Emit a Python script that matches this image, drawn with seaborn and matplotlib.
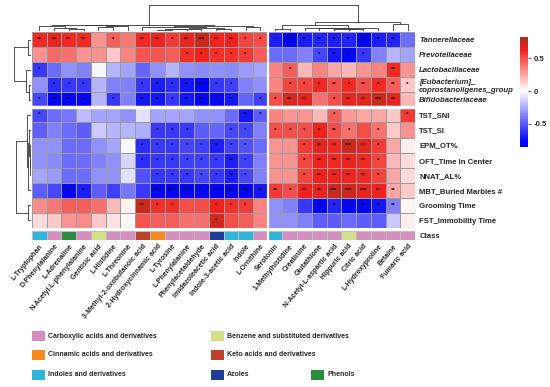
import numpy as np
import pandas as pd
import matplotlib
matplotlib.use("Agg")
import matplotlib.pyplot as plt
from matplotlib.colors import LinearSegmentedColormap, ListedColormap
from matplotlib.patches import Rectangle
import seaborn as sns

# ---------------- data ----------------
metabolites = ["L-Tryptophan", "D-Phenylalanine", "L-Adrenaline", "N-Acetyl-L-phenylalanine",
               "Gentisic acid", "L-Histidine", "L-Threonine", "3-Methyl-2-oxobutanoic acid",
               "2-Hydroxycinnamic acid", "L-Tyrosine", "L-Phenylalanine", "Phenylacetaldehyde",
               "Imidazoleacetic acid", "Indole-3-acetic acid", "Indole", "L-Ornithine", "Serotonin",
               "1-Methylhistidine", "Creatinine", "Glutathione", "N-Acetyl-L-aspartic acid",
               "Hippuric acid", "Citric acid", "L-Hydroxyproline", "Betaine", "Fumaric acid"]

class_names = ["Carboxylic acids and derivatives", "Benzene and substituted derivatives",
               "Cinnamic acids and derivatives", "Keto acids and derivatives",
               "Indoles and derivatives", "Azoles", "Phenols"]
class_colors = ["#d48fbf", "#d3e08a", "#f58a1f", "#b8432a", "#2fb4dc", "#1f3c98", "#2b8c3f"]
# class index of every metabolite (order of class_names)
metabolite_class = [4, 0, 6, 0, 1, 0, 0, 3, 2, 0, 0, 0, 5, 4, 4, 0, 4,
                    0, 0, 0, 0, 1, 0, 0, 0, 0]

bacteria = ["Tannerellaceae", "Prevotellaceae", "Lactobacillaceae",
            "[Eubacterium]_\ncoprostanoligenes_group", "Bifidobacteriaceae"]
behaviors = ["TST_SNI", "TST_SI", "EPM_OT%", "OFT_Time in Center", "NNAT_AL%",
             "MBT_Buried Marbles #", "Grooming Time", "FST_Immobility Time"]

# correlation coefficients, one list per row (columns follow `metabolites`)
tannerellaceae = [0.60, 0.65, 0.60, 0.60, 0.30, 0.45, 0.38, 0.60, 0.62, 0.55, 0.65, 0.72, 0.62,
                  0.62, 0.52, 0.50, -0.68, -0.80, -0.68, -0.66, -0.68, -0.66, -0.80, -0.68, -0.66, -0.44]
prevotellaceae = [0.30, 0.42, 0.40, 0.30, 0.30, 0.15, 0.35, 0.48, 0.48, 0.45, 0.58, 0.62, 0.58,
                  0.58, 0.55, 0.45, -0.44, -0.44, -0.38, -0.55, -0.70, -0.74, -0.60, -0.38, -0.22, -0.27]
lactobacillaceae = [-0.60, -0.44, -0.33, -0.38, -0.03, -0.22, -0.27, -0.46, -0.33, -0.22, -0.33, -0.35, -0.33,
                    -0.35, -0.30, -0.27, 0.35, 0.45, 0.20, 0.35, 0.25, 0.20, 0.30, 0.35, 0.60, 0.30]
eubacterium = [-0.33, -0.63, -0.60, -0.60, -0.22, -0.38, -0.38, -0.60, -0.68, -0.63, -0.70, -0.80, -0.60,
               -0.57, -0.38, -0.33, 0.35, 0.52, 0.52, 0.60, 0.50, 0.60, 0.50, 0.60, 0.45, 0.15]
bifidobacteriaceae = [-0.55, -0.80, -0.76, -0.76, -0.22, -0.60, -0.38, -0.70, -0.70, -0.60, -0.70, -0.80, -0.74,
                      -0.70, -0.46, -0.57, 0.50, 0.68, 0.65, 0.40, 0.50, 0.65, 0.65, 0.72, 0.65, 0.20]
tst_sni = [-0.55, -0.44, -0.41, -0.20, -0.27, -0.27, -0.33, -0.09, -0.27, -0.27, -0.27, -0.33, -0.33,
           -0.44, -0.70, -0.49, 0.35, 0.30, 0.30, 0.20, 0.45, 0.28, 0.25, 0.25, 0.15, 0.55]
tst_si = [-0.49, -0.38, -0.44, -0.49, -0.16, -0.22, -0.22, -0.24, -0.60, -0.60, -0.60, -0.49, -0.46,
          -0.55, -0.55, -0.38, 0.50, 0.50, 0.50, 0.62, 0.50, 0.40, 0.50, 0.40, 0.15, 0.30]
epm_ot = [-0.33, -0.33, -0.44, -0.44, -0.33, -0.27, -0.02, -0.63, -0.60, -0.60, -0.55, -0.57, -0.68,
          -0.57, -0.52, -0.44, 0.30, 0.30, 0.55, 0.65, 0.60, 0.72, 0.65, 0.55, 0.25, 0.05]
oft_center = [-0.33, -0.35, -0.44, -0.44, -0.38, -0.33, -0.13, -0.63, -0.60, -0.60, -0.57, -0.57, -0.60,
              -0.68, -0.57, -0.38, 0.30, 0.30, 0.52, 0.62, 0.60, 0.65, 0.60, 0.52, 0.20, 0.10]
nnat_al = [-0.27, -0.30, -0.44, -0.44, -0.33, -0.33, -0.09, -0.52, -0.60, -0.60, -0.60, -0.55, -0.60,
           -0.68, -0.55, -0.38, 0.30, 0.30, 0.52, 0.62, 0.62, 0.62, 0.60, 0.52, 0.25, 0.10]
mbt_marbles = [-0.49, -0.55, -0.76, -0.68, -0.49, -0.57, -0.41, -0.60, -0.80, -0.80, -0.76, -0.76, -0.80,
               -0.80, -0.76, -0.70, 0.55, 0.50, 0.62, 0.65, 0.72, 0.72, 0.65, 0.62, 0.25, 0.15]
grooming = [0.32, 0.38, 0.45, 0.45, 0.40, 0.20, 0.04, 0.72, 0.58, 0.58, 0.50, 0.50, 0.62,
            0.58, 0.55, 0.35, -0.33, -0.38, -0.60, -0.78, -0.66, -0.76, -0.76, -0.70, -0.38, 0.03]
fst_immobility = [0.10, 0.15, 0.30, 0.32, 0.15, 0.08, 0.02, 0.48, 0.45, 0.45, 0.40, 0.40, 0.70,
                  0.50, 0.45, 0.35, -0.33, -0.33, -0.38, -0.49, -0.49, -0.44, -0.49, -0.49, -0.16, 0.05]

# number of significance stars per cell, one string per row
stars_rows = ["22220102212322112322223220",
              "00000000001111100001221000",
              "10000000000000000100000020",
              "01110001212311000111212121",
              "13220102212322011220122320",
              "10000000000000210000100001",
              "00000000111001101111210100",
              "00000001111111100012232100",
              "00000001111112100012222100",
              "00000000111112100012222100",
              "00210000333223322122333220",
              "00000002110011100001212220",
              "00000000000010000000000000"]

# ---------------- tables ----------------
values = pd.DataFrame([tannerellaceae, prevotellaceae, lactobacillaceae, eubacterium, bifidobacteriaceae,
                       tst_sni, tst_si, epm_ot, oft_center, nnat_al, mbt_marbles, grooming, fst_immobility],
                      index=bacteria + behaviors, columns=metabolites)
stars = np.array([["*" * int(c) for c in row] for row in stars_rows])
n_bac = len(bacteria)
col_split = 16


def ordered_linkage(X):
    # average linkage, but only neighbours can merge so the drawn order is kept
    groups = [[i] for i in range(len(X))]
    pos = [i + 0.5 for i in range(len(X))]
    hts = [0.0] * len(X)
    links = []
    while len(groups) > 1:
        d = [np.mean([np.linalg.norm(X[a] - X[b]) for a in groups[k] for b in groups[k + 1]])
             for k in range(len(groups) - 1)]
        k = int(np.argmin(d))
        h = max(d[k], hts[k], hts[k + 1])
        links.append((pos[k], hts[k], pos[k + 1], hts[k + 1], h))
        groups[k] = groups[k] + groups[k + 1]
        del groups[k + 1]
        pos[k] = (pos[k] + pos[k + 1]) / 2
        del pos[k + 1]
        hts[k] = h
        del hts[k + 1]
    return links


# ---------------- figure ----------------
sns.set_style("white")
plt.rcParams["font.family"] = ["Liberation Sans", "DejaVu Sans"]
plt.rcParams["font.weight"] = "bold"

fig = plt.figure(figsize=(5.5, 3.87), dpi=100)
W, H = 550, 387


def box(x0, y0, x1, y1):
    return [x0 / W, 1 - y1 / H, (x1 - x0) / W, (y1 - y0) / H]


ax_hm = fig.add_axes(box(32, 32, 415, 228))
ax_cls = fig.add_axes(box(32, 231, 415, 240))
ax_top = fig.add_axes(box(32, 4, 415, 31))
ax_left = fig.add_axes(box(13, 32, 31, 228))
ax_cb = fig.add_axes(box(520, 37, 528, 147))

vmin, vmax = -0.85, 0.82
z = (0 - vmin) / (vmax - vmin)
cmap = LinearSegmentedColormap.from_list(
    "bwr_custom", [(0, "#0000ff"), (0.06, "#0505ff"), (z, "#ffffff"),
                   ((0.62 - vmin) / (vmax - vmin), "#f2221d"), (1, "#a7301f")])

sns.heatmap(values, ax=ax_hm, cmap=cmap, vmin=vmin, vmax=vmax,
            annot=stars, fmt="", annot_kws={"fontsize": 4.5, "color": "#111111", "fontweight": "bold"},
            linewidths=0.6, linecolor="#9c9c9c", cbar_ax=ax_cb, xticklabels=False, yticklabels=True)
ax_hm.axhline(n_bac, color="white", lw=2.5)
ax_hm.axvline(col_split, color="white", lw=1.6)
ax_hm.yaxis.tick_right()
ax_hm.tick_params(axis="y", length=0, pad=3, labelsize=5.6, rotation=0)
for i, lab in enumerate(ax_hm.get_yticklabels()):
    lab.set_fontweight("bold")
    lab.set_ha("left")
    if i < n_bac:
        lab.set_fontstyle("italic")
ax_hm.set_xlabel("")
ax_hm.set_ylabel("")

# colour bar
ax_cb.set_yticks([-0.5, 0, 0.5])
ax_cb.set_yticklabels(["-0.5", "0", "0.5"], fontsize=5.6, fontweight="bold")
ax_cb.tick_params(length=2, width=0.5, pad=2)
for s in ax_cb.spines.values():
    s.set_visible(False)

# class annotation row
cls_df = pd.DataFrame([metabolite_class], index=["Class"], columns=metabolites)
sns.heatmap(cls_df, ax=ax_cls, cmap=ListedColormap(class_colors), vmin=-0.5, vmax=len(class_colors) - 0.5,
            cbar=False, linewidths=0.5, linecolor="#bdbdbd", xticklabels=True, yticklabels=True)
ax_cls.axvline(col_split, color="white", lw=1.6)
ax_cls.yaxis.tick_right()
ax_cls.tick_params(axis="y", length=0, pad=3, labelsize=5.6, rotation=0)
ax_cls.tick_params(axis="x", length=0, pad=2, labelsize=5)
plt.setp(ax_cls.get_xticklabels(), rotation=50, ha="right", rotation_mode="anchor", fontweight="bold")
plt.setp(ax_cls.get_yticklabels(), fontweight="bold")
ax_cls.set_xlabel("")
ax_cls.set_ylabel("")

# column dendrogram
col_links = ordered_linkage(values.values.T)
for p1, h1, p2, h2, h in col_links:
    ax_top.plot([p1, p1, p2, p2], [h1, h, h, h2], color="#333333", lw=0.6)
ax_top.set_xlim(0, len(metabolites))
ax_top.set_ylim(0, col_links[-1][4] * 1.02)
ax_top.axis("off")

# row dendrograms (bacteria and behaviour tests clustered apart)
row_links = []
for start, stop in [(0, n_bac), (n_bac, len(values))]:
    for p1, h1, p2, h2, h in ordered_linkage(values.values[start:stop]):
        row_links.append((p1 + start, h1, p2 + start, h2, h))
for p1, h1, p2, h2, h in row_links:
    ax_left.plot([h1, h, h, h2], [p1, p1, p2, p2], color="#333333", lw=0.6)
ax_left.set_ylim(len(values), 0)
ax_left.set_xlim(max(l[4] for l in row_links) * 1.05, 0)
ax_left.axis("off")

# class legend
legend_slots = [(0, 0), (0, 1), (1, 0), (1, 1), (2, 0), (2, 1), (2, 2)]
slot_x = [32, 211, 311]
slot_y = [336, 355, 375]
for name, color, (r, c) in zip(class_names, class_colors, legend_slots):
    x, y = slot_x[c], slot_y[r]
    fig.patches.append(Rectangle((x / W, 1 - (y + 5) / H), 13 / W, 10 / H,
                                 transform=fig.transFigure, facecolor=color, edgecolor="none"))
    fig.text((x + 16) / W, 1 - y / H, name, fontsize=5, fontweight="bold", va="center", ha="left")

fig.savefig("out.png", dpi=100)
